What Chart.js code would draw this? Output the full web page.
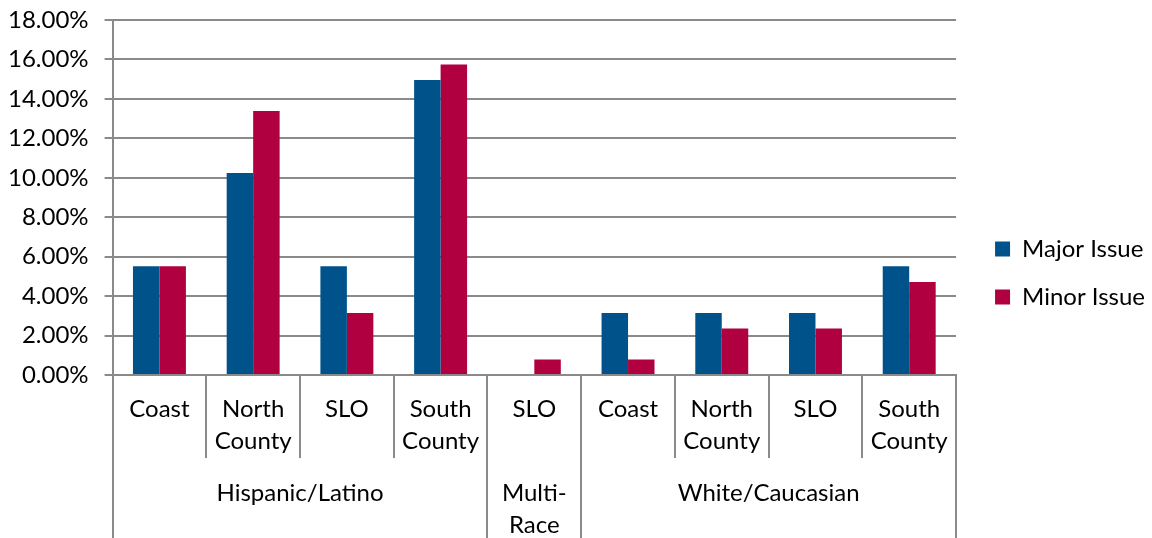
<!DOCTYPE html>
<html>
<head>
<meta charset="utf-8">
<script src="https://cdn.jsdelivr.net/npm/chart.js@4"></script>
<style>
  html, body { margin: 0; padding: 0; background: #fff; }
  #wrap { width: 1152px; height: 538px; position: relative; }
</style>
</head>
<body>
<div id="wrap"><canvas id="chart"></canvas></div>
<script>
  // ── Data ──────────────────────────────────────────
  const subLabels = ['Coast', ['North', 'County'], 'SLO', ['South', 'County'], 'SLO',
                     'Coast', ['North', 'County'], 'SLO', ['South', 'County']];
  const groupLabels = [['Hispanic/Latino'], ['Multi-', 'Race'], ['White/Caucasian']];
  const groupSizes = [4, 1, 4];
  const majorIssue = [0.0551, 0.1024, 0.0551, 0.1496, 0, 0.0315, 0.0315, 0.0315, 0.0551];
  const minorIssue = [0.0551, 0.1339, 0.0315, 0.1575, 0.0079, 0.0079, 0.0236, 0.0236, 0.0472];
  const yTicks = [0, 0.02, 0.04, 0.06, 0.08, 0.10, 0.12, 0.14, 0.16, 0.18];

  const FONT = 'Lato, "Open Sans", sans-serif';
  const FSIZE = 24;
  const GRID = '#8a8a8a';

  // ── Multi-level axis (separators + group row) ─────
  const groupAxis = {
    id: 'groupAxis',
    afterDraw(chart) {
      const x = chart.scales.x, ctx = chart.ctx;
      const top = chart.chartArea.bottom;
      const step = x.getPixelForValue(1) - x.getPixelForValue(0);
      const edge = i => x.getPixelForValue(i) - step / 2;
      const groupEdges = [0];
      groupSizes.forEach(n => groupEdges.push(groupEdges[groupEdges.length - 1] + n));
      ctx.save();
      ctx.strokeStyle = GRID; ctx.lineWidth = 2;
      for (let i = 0; i <= subLabels.length; i++) {
        const px = Math.round(edge(i));
        const isGroup = groupEdges.includes(i);
        ctx.beginPath();
        ctx.moveTo(px, top);
        ctx.lineTo(px, isGroup ? chart.height : top + 83);
        ctx.stroke();
      }
      ctx.fillStyle = '#000';
      ctx.font = FSIZE + 'px ' + FONT;
      ctx.textAlign = 'center'; ctx.textBaseline = 'middle';
      groupLabels.forEach((lines, g) => {
        const cx = (edge(groupEdges[g]) + edge(groupEdges[g + 1])) / 2;
        lines.forEach((t, k) => ctx.fillText(t, cx, top + 118 + k * 32));
      });
      ctx.restore();
    }
  };

  const ctxChart = document.getElementById('chart').getContext('2d');
  const chart = new Chart(ctxChart, {
    type: 'bar',
    data: {
      labels: subLabels,
      datasets: [
        { label: 'Major Issue', data: majorIssue, backgroundColor: '#00538A', barPercentage: 1, categoryPercentage: 0.565 },
        { label: 'Minor Issue', data: minorIssue, backgroundColor: '#B1003F', barPercentage: 1, categoryPercentage: 0.565 }
      ]
    },
    options: {
      responsive: true, maintainAspectRatio: false, animation: false,
      layout: { padding: { top: 8, left: -8, right: -3, bottom: 0 } },
      plugins: {
        tooltip: { enabled: false },
        legend: {
          position: 'right',
          labels: { boxWidth: 15, boxHeight: 15, padding: 24, color: '#000', font: { family: FONT, size: FSIZE } }
        }
      },
      scales: {
        x: {
          grid: { display: false },
          border: { display: true, color: GRID, width: 2 },
          ticks: { color: '#000', padding: 10, maxRotation: 0, autoSkip: false,
                   font: { family: FONT, size: FSIZE, lineHeight: 1.33 } },
          afterFit(s) { s.height = 163; }
        },
        y: {
          min: 0, max: 0.18,
          afterBuildTicks(s) { s.ticks = yTicks.map(v => ({ value: v })); },
          grid: { color: GRID, lineWidth: 2, tickLength: 8 },
          border: { display: true, color: GRID, width: 2 },
          ticks: { color: '#000', padding: 16, font: { family: FONT, size: FSIZE },
                   callback: v => (v * 100).toFixed(2) + '%' },
          afterFit(s) { s.paddingTop = 20; }
        },
        // empty spacer between plot and legend
        gap: {
          type: 'linear', position: 'right', display: true,
          grid: { display: false }, border: { display: false }, ticks: { display: false },
          afterFit(s) { s.width = 15; }
        }
      }
    },
    plugins: [groupAxis]
  });
</script>
</body>
</html>
